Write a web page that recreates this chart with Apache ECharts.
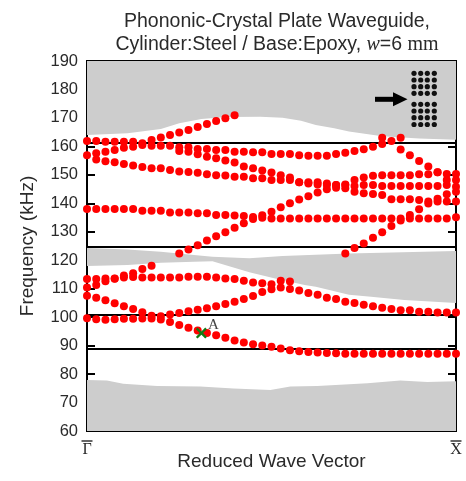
<!DOCTYPE html>
<html><head><meta charset="utf-8">
<script src="https://cdn.jsdelivr.net/npm/echarts@6/dist/echarts.min.js"></script>
<style>html,body{margin:0;padding:0;background:#fff}#c{width:466px;height:481px}</style>
</head><body><div id="c"></div>
<script>
// ---------- data ----------
const kGrid = [0,0.025,0.05,0.075,0.1,0.125,0.15,0.175,0.2,0.225,0.25,0.275,0.3,0.325,0.35,0.375,0.4,0.425,0.45,0.475,0.5,0.525,0.55,0.575,0.6,0.625,0.65,0.675,0.7,0.725,0.75,0.775,0.8,0.825,0.85,0.875,0.9,0.925,0.95,0.975,1];
const xTickLabels = ['Γ','X'];
const yTicks = {min:60, max:190, step:10};

const branch1 = [99.6,99.3,99.1,99.3,99.4,99.4,99.5,99.5,99.2,98.3, 97.2,96.3,95.3,94.4,93.6,92.8,91.8,91.1,90.5,90.0, 89.6,89.0,88.4,88.0,87.8,87.6,87.4,87.3,87.1,87.1, 87.1,87.1,87.1,87.1,87.1,87.1,87.1,87.1,87.1,87.1,87.1];
const branch2 = [107.5,106.8,105.9,104.9,103.8,102.9,101.7,100.5,100.3,100.9, 101.5,102.1,102.6,103.1,103.8,104.6,105.4,106.4,107.4,108.8, 109.8,110.4,109.9,109.4,108.5,107.9,106.8,106.4,105.4,105.0, 104.4,103.8,103.3,102.9,102.4,102.4,101.9,101.9,101.6,101.6,101.6];
const branch3 = [113.4,113.4,113.6,113.6,113.9,114.1,113.9,113.9,113.9,113.9, 113.9,114.2,114.2,114.2,113.9,113.6,113.4,112.8,112.2,111.9, 111.6,112.8,112.5,null,null,null,null,null,null,null, null,null,null,null,null,null,null,null,null,null,null];
const branch4 = [110.4,111.3,112.6,113.5,114.6,115.4,116.9,118.1,null,null, null,null,null,null,null,null,null,null,null,null, null,null,null,null,null,null,null,null,null,null, null,null,null,null,null,null,null,null,null,null,null];
const branch5 = [null,null,null,null,null,null,null,null,null,null, 122.4,123.8,125.3,126.9,128.4,129.8,131.4,133.0,134.5,135.8, 137.0,138.6,140.0,141.3,142.5,143.8,144.9,145.5,145.3,144.1, 143.5,143.3,142.9,141.4,141.4,141.4,141.2,140.6,140.6,140.6,140.6];
const branch6 = [138.0,138.0,138.0,138.0,138.0,138.0,137.4,137.4,137.4,136.8, 136.8,136.8,136.5,136.5,135.9,135.9,135.7,135.5,135.2,134.9, 134.7,134.7,134.7,134.7,134.7,134.7,134.7,134.7,134.7,134.7, 134.7,134.7,134.7,134.7,134.7,134.7,134.7,134.7,134.7,134.7,135.1];
const branch7 = [null,null,null,null,null,null,null,null,null,null, null,null,null,null,null,null,null,null,null,null, null,null,null,null,null,null,null,null,122.4,124.3, 125.9,127.9,129.8,132.0,134.0,135.9,137.9,139.9,141.6,143.2,144.1];
const branch8 = [161.9,161.9,161.6,161.6,161.6,161.6,161.1,162.2,163.1,164.0, 164.9,165.8,166.8,167.9,168.9,169.9,170.9,null,null,null, null,null,null,null,null,null,null,null,null,null, null,null,null,null,null,null,null,null,null,null,null];
const branch9 = [156.9,157.6,158.1,158.7,159.5,159.9,160.5,160.2,160.2,160.2, 159.7,159.7,159.1,159.1,158.7,158.7,158.1,158.1,157.9,157.9, 157.3,157.3,157.3,156.9,156.7,156.7,156.7,157.3,157.8,158.4, 159.0,159.9,160.8,161.9,158.9,156.9,154.9,152.9,150.9,150.3,150.3];
const branch10 = [null,null,null,null,null,null,null,null,null,null, 158.4,158.1,157.2,156.4,155.8,155.0,154.3,152.9,152.3,151.5, 150.8,149.9,149.1,147.4,147.4,147.4,147.0,146.4,146.6,148.2, 149.1,149.7,149.9,149.9,149.9,149.9,150.2,150.2,150.9,148.2,148.2];
const branch11 = [null,155.4,154.8,154.4,153.8,153.3,152.8,152.3,152.3,151.7, 151.2,151.0,150.7,150.2,149.9,149.8,149.3,149.3,148.8,148.8, 148.2,148.2,148.2,147.4,147.0,146.6,146.4,146.4,146.4,146.1, 146.4,146.4,146.1,146.1,146.1,146.1,146.1,146.1,146.1,146.4,145.8];
const branch12 = [null,null,null,null,null,null,null,null,null,null, null,null,null,null,null,null,null,null,null,null, null,null,null,null,null,null,null,null,null,null, null,null,163.0,null,163.0,null,null,null,null,null,null];

const pointA = [0.31, 94.4];
const gapLines = [161.4, 124.8, 100.7, 89.0];

// grey bulk-band boundaries
const topBandK = [0,0.11,0.2,0.25,0.31,0.38,0.47,0.53,0.58,0.62,0.67,0.71,0.8,0.9,1];
const topBandF = [164.0,164.6,166.1,168.1,169.6,170.3,170.4,170.1,169.0,167.5,166.4,165.2,163.6,162.8,162.3];
const midUpperK = [0,0.11,0.2,0.29,0.34,0.44,0.53,0.71,1];
const midUpperF = [124.3,123.8,123.0,121.8,121.2,120.7,121.5,122.4,123.2];
const midLowerK = [0,0.11,0.2,0.29,0.34,0.44,0.51,0.59,0.62,0.71,0.77,0.86,1];
const midLowerF = [118.0,118.3,119.1,119.5,119.6,115.8,113.6,111.3,110.7,107.9,107.2,106.0,105.0];
const lowBandK = [0,0.054,0.098,0.19,0.307,0.397,0.497,0.551,0.624,0.76,0.849,0.922,1];
const lowBandF = [77.9,77.7,76.6,75.8,75.6,74.9,74.4,75.6,75.8,76.8,77.7,77.2,77.5];

// ---------- chart ----------
const GREY = '#cdcdcd';
const SANS = 'Liberation Sans';
const SERIF = 'Liberation Serif';
const zip = (ks, fs) => ks.map((k, i) => [k, fs[i]]);

function polySeries(points, extra) {
  return Object.assign({
    type: 'custom', silent: true, z: 1, clip: true,
    data: [[0.5, 120]],
    renderItem: (p, api) => ({
      type: 'polygon',
      shape: { points: points.map(pt => api.coord(pt)) },
      style: { fill: GREY }
    })
  }, extra || {});
}

const topPoly = zip(topBandK, topBandF).concat([[1, yTicks.max], [0, yTicks.max]]);
const midPoly = zip(midUpperK, midUpperF).concat(zip(midLowerK, midLowerF).reverse());
const lowPoly = zip(lowBandK, lowBandF).concat([[1, yTicks.min], [0, yTicks.min]]);

const branches = [branch1, branch2, branch3, branch4, branch5, branch6, branch7, branch8, branch9, branch10, branch11, branch12];
const dotSeries = branches.map(b => ({
  type: 'scatter', z: 10, symbol: 'circle', symbolSize: 8, silent: true,
  itemStyle: { color: '#ff0000', opacity: 1 },
  data: kGrid.map((k, i) => b[i] == null ? null : [k, b[i]]).filter(Boolean)
}));

const crossPath = 'path://M0,1.5L1.5,0L5,3.5L8.5,0L10,1.5L6.5,5L10,8.5L8.5,10L5,6.5L1.5,10L0,8.5L3.5,5Z';

const insetCols = [414, 420.7, 427.3, 434.3];
const insetRows = [73.3, 80, 86.7, 93.3, 104.3, 111, 117.7, 124.5];
const insetEls = [];
insetRows.forEach(y => insetCols.forEach(x => insetEls.push({
  type: 'circle', shape: { cx: x, cy: y, r: 2.6 }, style: { fill: '#111' }, z: 20
})));
insetEls.push({ type: 'rect', shape: { x: 375, y: 96.8, width: 19, height: 5 }, style: { fill: '#000' }, z: 20 });
insetEls.push({ type: 'polygon', shape: { points: [[393, 92.3], [407.5, 99.3], [393, 106.3]] }, style: { fill: '#000' }, z: 20 });

const chart = echarts.init(document.getElementById('c'), null, { renderer: 'canvas' });
chart.setOption({
  animation: false,
  backgroundColor: '#fff',
  title: {
    left: 272, top: 5, textAlign: 'center',
    text: 'Phononic-Crystal Plate Waveguide,\nCylinder:Steel / Base:Epoxy, {i|w}=6 {m|mm}',
    textStyle: {
      fontFamily: SANS, fontSize: 19.5, fontWeight: 'normal', color: '#2a2a2a', lineHeight: 23,
      rich: {
        i: { fontFamily: SERIF, fontStyle: 'italic', fontSize: 20, color: '#2a2a2a', lineHeight: 23 },
        m: { fontFamily: SERIF, fontSize: 20, color: '#2a2a2a', lineHeight: 23 }
      }
    }
  },
  grid: { left: 87, right: 10, top: 61, bottom: 50, show: true, borderColor: '#000', borderWidth: 2,
          backgroundColor: 'transparent', containLabel: false, outerBoundsMode: 'none' },
  xAxis: {
    type: 'value', min: 0, max: 1, interval: 1,
    axisLine: { show: false }, axisTick: { show: false }, splitLine: { show: false },
    name: 'Reduced Wave Vector', nameLocation: 'middle', nameGap: 21, nameMoveOverlap: false,
    nameTextStyle: { fontFamily: SANS, fontSize: 19, color: '#2a2a2a' },
    axisLabel: {
      margin: 8,
      formatter: v => '{b| }\n{s|' + (v === 0 ? xTickLabels[0] : xTickLabels[1]) + '}',
      rich: {
        b: { width: 11, height: 1.5, lineHeight: 4, backgroundColor: '#333', fontSize: 2 },
        s: { fontFamily: SERIF, fontSize: 16, color: '#2a2a2a', lineHeight: 14 }
      }
    }
  },
  yAxis: [{
    type: 'value', min: yTicks.min, max: yTicks.max, interval: yTicks.step,
    axisLine: { show: false }, splitLine: { show: false },
    axisTick: { show: true, inside: true, length: 8, lineStyle: { color: '#000', width: 2 } },
    axisLabel: { fontFamily: SANS, fontSize: 16.5, color: '#2a2a2a', margin: 9 },
    name: 'Frequency (kHz)', nameLocation: 'middle', nameGap: 50, nameMoveOverlap: false,
    nameTextStyle: { fontFamily: SANS, fontSize: 19, color: '#2a2a2a' }
  }, {
    type: 'value', position: 'right', min: yTicks.min, max: yTicks.max, interval: yTicks.step,
    axisLine: { show: false }, splitLine: { show: false },
    axisTick: { show: true, inside: true, length: 8, lineStyle: { color: '#000', width: 2 } },
    axisLabel: { show: false }
  }],
  graphic: insetEls,
  series: [
    polySeries(topPoly),
    polySeries(midPoly),
    polySeries(lowPoly, {
      markLine: {
        silent: true, symbol: 'none', label: { show: false }, z: 2,
        lineStyle: { color: '#000', width: 2, type: 'solid' },
        data: gapLines.map(v => ({ yAxis: v }))
      }
    })
  ].concat(dotSeries).concat([{
    type: 'scatter', z: 12, silent: true, symbol: crossPath, symbolSize: 11,
    itemStyle: { color: '#127a12', opacity: 1 },
    label: { show: true, formatter: 'A', position: 'right', distance: 1, offset: [0, -8],
             fontFamily: SERIF, fontSize: 15, color: '#444' },
    data: [pointA]
  }])
});
</script></body></html>
